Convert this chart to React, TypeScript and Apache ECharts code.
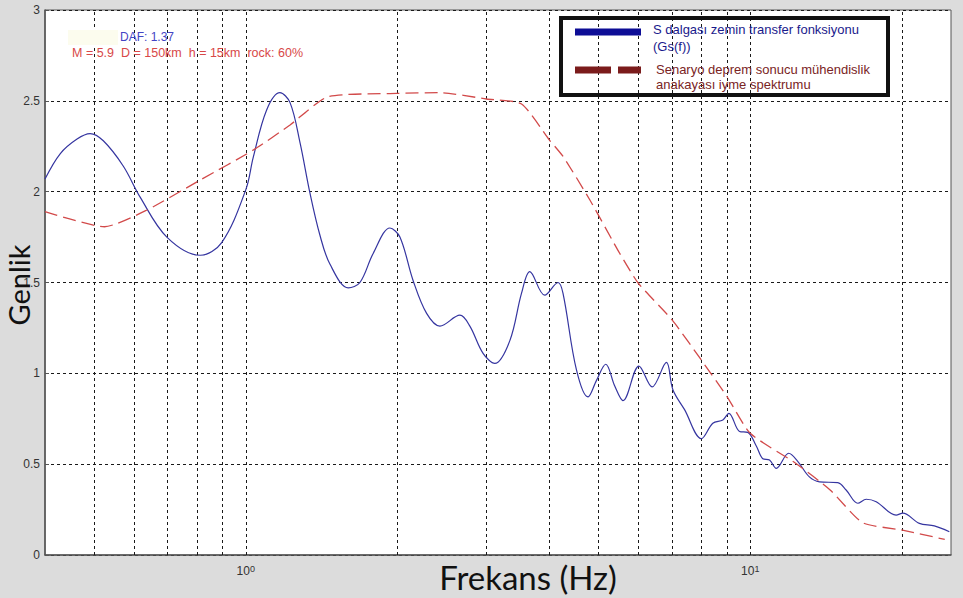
import React, { useEffect, useRef } from "react";
import * as echarts from "echarts";

// Frequency grid lines (Hz)
const freqGrid = [0.5, 0.6, 0.7, 0.8, 0.9, 1, 2, 3, 4, 5, 6, 7, 8, 9, 10, 20];

// S dalgası zemin transfer fonksiyonu (Gs(f))
const transferFreq = [
  0.40, 0.429, 0.463, 0.4915, 0.522, 0.572, 0.6175, 0.6975, 0.812, 0.896,
  1.0, 1.035, 1.10, 1.169, 1.224, 1.281, 1.341, 1.403, 1.469, 1.597,
  1.684, 1.789, 1.931, 2.021, 2.147, 2.283, 2.426, 2.658, 2.781, 2.954,
  3.117, 3.338, 3.52, 3.656, 3.914, 4.159, 4.255, 4.523, 4.769, 4.955,
  5.171, 5.388, 5.595, 6.017, 6.39, 6.82, 7.025, 7.41, 8.0, 8.43,
  8.825, 9.07, 9.524, 9.89, 10.28, 10.59, 10.92, 11.26, 11.92, 12.43,
  13.10, 13.72, 14.91, 15.49, 16.34, 16.98, 17.77, 19.46, 20.06, 21.64,
  23.17, 24.81,
];
const transferAmp = [
  2.07, 2.21, 2.29, 2.32, 2.28, 2.14, 1.97, 1.75, 1.65, 1.72,
  2.01, 2.19, 2.45, 2.545, 2.49, 2.27, 1.99, 1.76, 1.60, 1.47,
  1.50, 1.66, 1.80, 1.75, 1.51, 1.33, 1.26, 1.32, 1.26, 1.11,
  1.055, 1.18, 1.44, 1.56, 1.43, 1.50, 1.44, 1.02, 0.87, 0.96,
  1.05, 0.93, 0.85, 1.04, 0.925, 1.06, 0.91, 0.80, 0.64, 0.725,
  0.743, 0.78, 0.68, 0.675, 0.60, 0.53, 0.523, 0.477, 0.56, 0.514,
  0.43, 0.403, 0.398, 0.358, 0.285, 0.307, 0.293, 0.22, 0.23, 0.174,
  0.16, 0.128,
];

// Senaryo deprem sonucu mühendislik anakayası ivme spektrumu
const spectrumFreq = [
  0.40, 0.525, 0.637, 0.812, 1.035, 1.224, 1.457, 1.99, 2.43, 3.0,
  3.52, 4.0, 4.26, 4.81, 5.51, 6.0, 7.0, 8.0, 9.0, 10.0,
  12.3, 14.4, 16.7, 19.9, 24.3,
];
const spectrumAmp = [
  1.89, 1.807, 1.899, 2.064, 2.229, 2.367, 2.523, 2.541, 2.545, 2.51,
  2.483, 2.284, 2.192, 1.954, 1.661, 1.496, 1.294, 1.073, 0.871, 0.67,
  0.505, 0.358, 0.178, 0.138, 0.086,
];

const transferName = "S dalgası zemin transfer fonksiyonu";
const transferName2 = "(Gs(f))";
const spectrumName = "Senaryo deprem sonucu mühendislik";
const spectrumName2 = "anakayası iyme spektrumu";
const dafText = "DAF: 1.37";
const paramText = "M = 5.9  D = 150km  h = 15km  rock: 60%";
const xTitle = "Frekans (Hz)";
const yTitle = "Genlik";

const SANS = '"Liberation Sans", Arial, sans-serif';

export default function App() {
  const ref = useRef<HTMLDivElement>(null);
  useEffect(() => {
    if (!ref.current) return;
    const chart = echarts.init(ref.current, null, { renderer: "svg" });
    const zip = (a: number[], b: number[]) => a.map((v, i) => [v, b[i]]);
    const option: any = {
      animation: false,
      backgroundColor: "#dcdcdc",
      grid: {
        left: 45,
        right: 12,
        top: 10,
        bottom: 43,
        outerBoundsMode: "none",
        containLabel: false,
        show: true,
        backgroundColor: "#ffffff",
        borderColor: "#555",
        borderWidth: 1,
      },
      xAxis: {
        type: "log",
        logBase: 10,
        min: 0.4,
        max: 25,
        axisLine: { show: true, lineStyle: { color: "#555", width: 1.5 } },
        axisTick: { show: false },
        splitLine: { show: false },
        axisLabel: {
          margin: 9,
          showMinLabel: false,
          showMaxLabel: false,
          formatter: (v: number) => {
            const p = Math.log10(v);
            if (Math.abs(p - Math.round(p)) < 1e-6) return `{b|10}{s|${Math.round(p)}}`;
            return "";
          },
          rich: {
            b: { fontSize: 12, color: "#333", fontFamily: SANS },
            s: { fontSize: 9, color: "#333", fontFamily: SANS, verticalAlign: "top", padding: [0, 0, 4, 0] },
          },
        },
      },
      yAxis: {
        type: "value",
        min: 0,
        max: 3,
        interval: 0.5,
        axisLine: { show: true, lineStyle: { color: "#555", width: 1.5 } },
        axisTick: { show: true, inside: true, length: 4, lineStyle: { color: "#555" } },
        splitLine: { show: true, lineStyle: { type: [3, 3], color: "#1a1a1a", width: 1 } },
        axisLabel: {
          color: "#333",
          fontSize: 12,
          fontFamily: SANS,
          margin: 5,
          formatter: (v: number) => String(v),
        },
      },
      series: [
        {
          name: transferName,
          type: "line",
          data: zip(transferFreq, transferAmp),
          showSymbol: false,
          smooth: 0.35,
          lineStyle: { color: "#3535a0", width: 1.2 },
          z: 3,
          markLine: {
            silent: true,
            symbol: "none",
            label: { show: false },
            lineStyle: { type: [3, 3], color: "#1a1a1a", width: 1 },
            data: freqGrid.map((f) => ({ xAxis: f })),
            z: 1,
          },
        },
        {
          name: spectrumName,
          type: "line",
          data: zip(spectrumFreq, spectrumAmp),
          showSymbol: false,
          smooth: 0.2,
          lineStyle: { color: "#d24a4a", width: 1.3, type: [13, 6] },
          z: 4,
        },
      ],
      graphic: [
        {
          type: "text",
          x: 528,
          y: 577,
          style: {
            text: xTitle,
            fill: "#111",
            fontSize: 33,
            fontFamily: "Lato",
            align: "center",
            verticalAlign: "middle",
          },
          z: 20,
        },
        {
          type: "text",
          x: 18,
          y: 285,
          rotation: Math.PI / 2,
          style: {
            text: yTitle,
            fill: "#111",
            fontSize: 29,
            fontFamily: "Lato",
            align: "center",
            verticalAlign: "middle",
          },
          z: 20,
        },
        { type: "rect", shape: { x: 68, y: 30, width: 50, height: 15 }, style: { fill: "#fcfcee" }, z: 5 },
        {
          type: "text",
          x: 120,
          y: 37,
          style: { text: dafText, fill: "#4444c4", fontSize: 12, fontFamily: SANS, verticalAlign: "middle" },
          z: 6,
        },
        {
          type: "text",
          x: 72,
          y: 53,
          style: { text: paramText, fill: "#d84848", fontSize: 12.5, fontFamily: SANS, verticalAlign: "middle" },
          z: 6,
        },
        {
          type: "rect",
          shape: { x: 561, y: 18, width: 327, height: 77 },
          style: { fill: "rgba(255,255,255,0)", stroke: "#111", lineWidth: 4 },
          z: 10,
        },
        {
          type: "line",
          shape: { x1: 575, y1: 32, x2: 641, y2: 32 },
          style: { stroke: "#0d0d96", lineWidth: 7 },
          z: 10,
        },
        {
          type: "line",
          shape: { x1: 575, y1: 70, x2: 641, y2: 70 },
          style: { stroke: "#7b1c1c", lineWidth: 7, lineDash: [36, 7] },
          z: 10,
        },
        {
          type: "text",
          x: 653,
          y: 29,
          style: { text: transferName, fill: "#1a1a8c", fontSize: 13, fontFamily: SANS, verticalAlign: "middle" },
          z: 10,
        },
        {
          type: "text",
          x: 653,
          y: 46,
          style: { text: transferName2, fill: "#1a1a8c", fontSize: 13, fontFamily: SANS, verticalAlign: "middle" },
          z: 10,
        },
        {
          type: "text",
          x: 656,
          y: 69.5,
          style: { text: spectrumName, fill: "#7a2424", fontSize: 13, fontFamily: SANS, verticalAlign: "middle" },
          z: 10,
        },
        {
          type: "text",
          x: 656,
          y: 84,
          style: { text: spectrumName2, fill: "#7a2424", fontSize: 13, fontFamily: SANS, verticalAlign: "middle" },
          z: 10,
        },
      ],
    };
    chart.setOption(option);
    return () => chart.dispose();
  }, []);
  return (
    <div
      ref={ref}
      style={{ position: "absolute", left: 0, top: 0, width: 963, height: 598 }}
    />
  );
}
